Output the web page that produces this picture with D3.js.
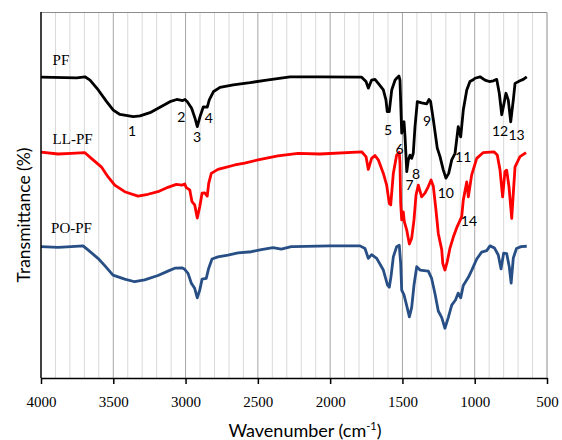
<!DOCTYPE html>
<html>
<head>
<meta charset="utf-8">
<script src="https://cdn.jsdelivr.net/npm/d3@7"></script>
<style>
  body { margin: 0; background: #fff; }
  svg { display: block; }
</style>
</head>
<body>
<svg id="chart" width="562" height="440"></svg>
<script>
// spectra: wavenumber (cm-1) and transmittance (arbitrary, offset)
const pfWn = [4000,3753,3696,3661,3604,3546,3500,3454,3362,3315,3246,3177,3108,3061,3020,3004,2988,2958,2935,2919,2900,2877,2850,2836,2808,2762,2670,2554,2439,2278,2070,1782,1752,1736,1713,1690,1667,1632,1614,1605,1591,1574,1551,1540,1524,1517,1505,1498,1489,1482,1470,1459,1448,1436,1425,1413,1397,1367,1332,1316,1305,1286,1259,1240,1217,1199,1180,1159,1136,1114,1097,1079,1055,1033,1014,998,963,929,899,871,848,830,813,797,784,768,751,733,721,687,664,640];
const pfT  = [82.2,82.0,82.3,81.4,78.7,75.5,73.2,72.0,71.4,71.6,72.5,74.0,75.5,76.1,75.8,76.1,75.5,73.7,71.0,68.7,71.4,74.1,74.0,76.0,78.2,79.4,80.1,80.7,81.4,82.3,82.3,82.2,81.0,79.2,81.4,81.6,80.5,78.7,76.0,72.8,72.8,78.7,81.4,81.9,82.5,81.4,66.9,69.1,70.0,65.9,56.4,59.6,60.9,60.0,61.4,68.7,75.5,75.2,74.9,76.1,75.5,70.5,62.8,60.5,56.8,54.6,55.9,59.6,61.4,68.7,65.9,73.2,78.7,81.0,81.4,81.9,82.3,81.4,81.0,81.2,81.6,77.8,71.9,75.1,77.8,76.0,70.0,76.0,80.5,81.2,81.6,82.3];

const llWn = [4000,3882,3790,3698,3652,3583,3537,3490,3421,3329,3260,3191,3122,3064,3025,3006,2995,2971,2956,2937,2919,2902,2886,2868,2850,2840,2822,2776,2729,2660,2591,2499,2361,2222,2070,1782,1752,1736,1713,1690,1667,1632,1609,1591,1581,1563,1540,1522,1517,1512,1505,1494,1487,1470,1452,1436,1420,1406,1390,1367,1344,1321,1302,1286,1268,1252,1228,1221,1206,1190,1171,1148,1125,1107,1090,1079,1055,1044,1021,986,941,867,844,825,807,791,779,763,744,733,721,687,645];
const llT  = [61.7,61.2,61.4,61.6,60.0,57.7,55.0,52.7,50.9,49.7,50.2,50.9,52.1,52.9,52.7,53.0,52.0,51.4,48.2,47.3,43.7,46.8,50.5,50.6,49.7,53.2,55.9,57.0,57.5,58.2,58.7,59.6,60.7,61.4,61.2,61.8,60.5,57.0,60.0,60.8,59.6,55.9,52.7,47.7,47.3,55.9,60.9,61.7,58.7,47.7,43.2,45.4,42.7,40.4,36.6,38.2,43.2,50.0,52.7,49.5,50.5,52.3,54.1,52.3,45.9,39.5,35.0,31.3,29.5,31.8,35.5,38.5,41.0,42.6,44.1,48.6,53.6,49.5,55.5,60.0,61.6,61.8,60.9,56.8,49.5,56.4,56.8,52.3,43.6,50.5,57.7,60.5,61.6];

const poWn = [4000,3882,3790,3709,3675,3606,3559,3502,3421,3352,3283,3191,3122,3075,3025,3006,2983,2960,2937,2919,2902,2886,2857,2840,2817,2776,2707,2637,2545,2476,2395,2338,2269,2255,2001,1793,1759,1736,1713,1678,1632,1603,1591,1579,1563,1540,1522,1512,1505,1489,1470,1452,1436,1420,1401,1378,1321,1298,1275,1252,1228,1206,1183,1159,1133,1114,1097,1079,1044,1021,986,952,917,894,863,837,818,800,779,761,748,733,711,680,640];
const poT  = [35.9,35.7,35.9,36.1,35.0,32.7,30.7,28.1,27.0,26.3,26.8,28.0,29.2,30.0,30.1,29.7,28.6,25.9,24.5,21.9,24.0,27.0,27.2,30.0,32.5,33.1,33.6,34.2,34.5,35.1,35.6,35.2,35.9,35.9,36.1,36.1,35.4,32.7,33.7,32.7,29.5,25.4,24.8,27.7,33.1,35.9,36.3,31.3,24.0,22.7,19.7,16.7,19.3,25.4,30.4,29.5,29.2,27.2,23.1,18.3,16.5,13.6,16.5,19.9,21.3,23.2,21.9,25.3,27.5,29.4,32.5,34.4,34.8,36.1,35.5,33.6,29.8,34.1,34.0,30.4,25.9,32.8,35.4,35.9,36.0];

const seriesNames = ["PF", "LL-PF", "PO-PF"];
const seriesColors = ["#000000", "#ff0000", "#274f85"];
const seriesLabelT = [85.5, 64.0, 39.5];
const seriesLabelWn = [3920, 3920, 3930];

// band numbers: label, wavenumber, transmittance position
const bandLabels = ["1","2","3","4","5","6","7","8","9","10","11","12","13","14"];
const bandWn     = [3370, 3030, 2920, 2840, 1600, 1520, 1450, 1405, 1330, 1200, 1080, 825, 710, 1040];
const bandT      = [66.0, 70.0, 64.5, 69.7, 66.5, 61.2, 51.5, 54.5, 68.8, 49.3, 59.0, 66.2, 65.0, 41.5];

const xTicks = [4000, 3500, 3000, 2500, 2000, 1500, 1000, 500];

const svg = d3.select("#chart");
const margin = {top: 12, right: 15, bottom: 62, left: 41};
const width = 562 - margin.left - margin.right;
const height = 440 - margin.top - margin.bottom;
const g = svg.append("g").attr("transform", `translate(${margin.left},${margin.top})`);

const x = d3.scaleLinear().domain([4000, 500]).range([0, width]);
const y = d3.scaleLinear().domain([0, 100]).range([height, 0]);

// minor grid every 100
g.append("g").selectAll("line")
  .data(d3.range(3900, 500, -100).filter(v => v % 500 !== 0))
  .enter().append("line")
  .attr("x1", d => x(d)).attr("x2", d => x(d))
  .attr("y1", 0).attr("y2", height)
  .attr("stroke", "#d9d9d9").attr("stroke-width", 1);

// major grid every 500
g.append("g").selectAll("line")
  .data(xTicks.filter(v => v !== 4000 && v !== 500))
  .enter().append("line")
  .attr("x1", d => x(d)).attr("x2", d => x(d))
  .attr("y1", 0).attr("y2", height)
  .attr("stroke", "#a6a6a6").attr("stroke-width", 1);

// frame top and right
g.append("path")
  .attr("d", `M0,0.5H${width}V${height}`)
  .attr("fill", "none").attr("stroke", "#8c8c8c").attr("stroke-width", 1);

const line = d3.line().x(d => x(d[0])).y(d => y(d[1]));
const series = [d3.zip(pfWn, pfT), d3.zip(llWn, llT), d3.zip(poWn, poT)];

g.selectAll(".spectrum").data(series)
  .enter().append("path")
  .attr("class", "spectrum")
  .attr("d", line)
  .attr("fill", "none")
  .attr("stroke", (d, i) => seriesColors[i])
  .attr("stroke-width", 2.8)
  .attr("stroke-linejoin", "round");

// axes
const xAxis = g.append("g")
  .attr("transform", `translate(0,${height})`)
  .call(d3.axisBottom(x).tickValues(xTicks).tickSize(6).tickSizeOuter(0).tickPadding(12).tickFormat(d3.format("d")));
xAxis.select(".domain").attr("stroke", "#000").attr("stroke-width", 1.5);
xAxis.selectAll(".tick line").attr("stroke", "#000").attr("stroke-width", 1.5);
xAxis.selectAll(".tick text")
  .attr("font-family", "'Liberation Serif', 'Times New Roman', serif")
  .attr("font-size", 15).attr("fill", "#000");

g.append("line")
  .attr("x1", 0).attr("x2", 0).attr("y1", 0).attr("y2", height)
  .attr("stroke", "#000").attr("stroke-width", 1.5);

// series names
g.selectAll(".sname").data(seriesNames)
  .enter().append("text")
  .attr("class", "sname")
  .attr("x", (d, i) => x(seriesLabelWn[i]))
  .attr("y", (d, i) => y(seriesLabelT[i]))
  .attr("font-family", "'Liberation Serif', 'Times New Roman', serif")
  .attr("font-size", 15)
  .text(d => d);

// band numbers
g.selectAll(".band").data(bandLabels)
  .enter().append("text")
  .attr("class", "band")
  .attr("x", (d, i) => x(bandWn[i]))
  .attr("y", (d, i) => y(bandT[i]))
  .attr("text-anchor", "middle")
  .attr("font-family", "Lato, 'Open Sans', sans-serif")
  .attr("font-size", 14)
  .text(d => d);

// axis titles
svg.append("text")
  .attr("transform", "translate(30,215) rotate(-90)")
  .attr("text-anchor", "middle")
  .attr("font-family", "Lato, 'Open Sans', sans-serif")
  .attr("font-size", 17.5)
  .text("Transmittance (%)");

const xt = svg.append("text")
  .attr("x", 305).attr("y", 437)
  .attr("text-anchor", "middle")
  .attr("font-family", "Lato, 'Open Sans', sans-serif")
  .attr("font-size", 18);
xt.append("tspan").text("Wavenumber (cm");
xt.append("tspan").attr("font-size", 11).attr("dy", -7).text("-1");
xt.append("tspan").attr("dy", 7).text(")");
</script>
</body>
</html>
